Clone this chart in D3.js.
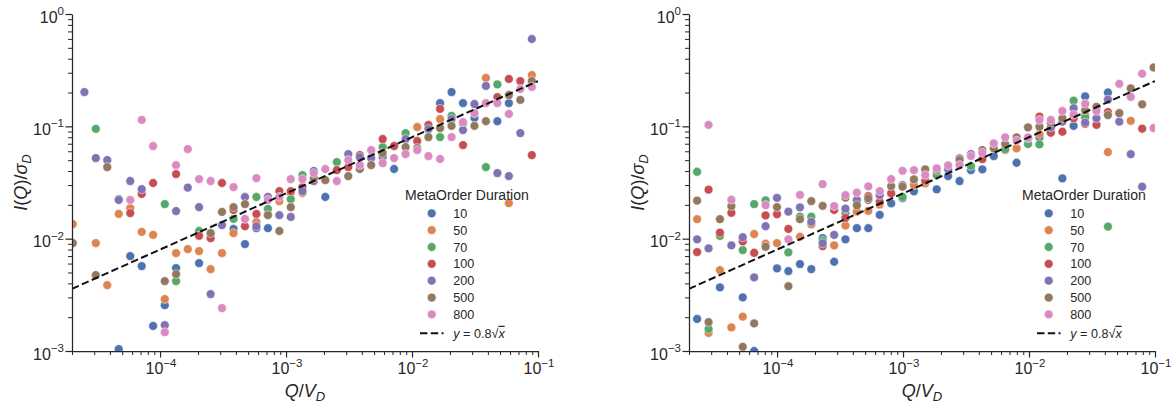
<!DOCTYPE html>
<html><head><meta charset="utf-8">
<script src="https://cdn.jsdelivr.net/npm/d3@7"></script>
<style>
body{margin:0;background:#fff}
svg{display:block}
text{font-family:"Liberation Sans",Arial,sans-serif;fill:#262626}
</style>
</head><body>
<svg id="c" width="1172" height="405"></svg>
<script>
// ---------------- DATA ----------------
const durations = ["10","50","70","100","200","500","800"];
const colors = ["#4C72B0","#DD8452","#55A868","#C44E52","#8172B3","#937860","#DA8BC3"];
const xTickExps = [-4,-3,-2,-1];
const yTickExps = [0,-1,-2,-3];
const xDomain = [2e-5, 1e-1];
const yDomain = [1e-3, 1];
const fitCoef = 0.8;

// Q/V_D bin centres (left panel)
const xBinsLeft = [2.03e-5,2.51e-5,3.09e-5,3.81e-5,4.70e-5,5.80e-5,7.15e-5,8.81e-5,1.09e-4,1.34e-4,
 1.66e-4,2.04e-4,2.52e-4,3.10e-4,3.83e-4,4.72e-4,5.82e-4,7.18e-4,8.85e-4,1.09e-3,
 1.35e-3,1.66e-3,2.05e-3,2.53e-3,3.12e-3,3.85e-3,4.74e-3,5.85e-3,7.21e-3,8.89e-3,
 1.10e-2,1.35e-2,1.67e-2,2.06e-2,2.54e-2,3.13e-2,3.86e-2,4.76e-2,5.87e-2,7.24e-2,
 8.93e-2];
// Q/V_D bin centres (right panel)
const xBinsRight = [2.32e-5,2.86e-5,3.52e-5,4.34e-5,5.34e-5,6.58e-5,8.11e-5,9.99e-5,1.23e-4,1.52e-4,
 1.87e-4,2.30e-4,2.84e-4,3.49e-4,4.30e-4,5.30e-4,6.53e-4,8.05e-4,9.91e-4,1.22e-3,
 1.50e-3,1.85e-3,2.28e-3,2.81e-3,3.46e-3,4.26e-3,5.25e-3,6.47e-3,7.97e-3,9.82e-3,
 1.21e-2,1.49e-2,1.84e-2,2.26e-2,2.79e-2,3.43e-2,4.23e-2,5.21e-2,6.42e-2,7.91e-2,
 9.75e-2];

// Left panel I(Q)/sigma_D per duration
const d10L = [null,null,null,null,0.00104,0.0070,0.0057,0.00167,0.00256,0.00547,
 null,0.00606,0.0112,null,0.0122,0.00895,0.0124,0.0124,null,null,
 null,0.0400,0.0235,null,null,null,null,null,0.0417,null,
 null,null,0.161,0.202,0.161,0.119,null,0.111,0.161,null,
 null];
const d50L = [0.0135,null,0.00914,0.00386,0.0166,0.0187,0.0115,0.0108,0.0029,0.00744,
 0.00808,0.00775,0.00536,0.00744,0.0112,null,0.0141,0.0166,0.0216,0.0255,
 0.0255,null,null,null,null,null,null,null,null,null,
 0.0986,null,0.116,null,null,null,0.27,null,0.0207,null,
 0.286];
const d70L = [null,null,0.095,null,0.0225,null,null,null,0.0203,0.00419,
 null,0.0117,null,null,0.0150,null,0.0235,0.0184,null,0.0225,
 0.0368,null,null,0.0481,null,null,null,0.0654,null,0.0871,
 null,null,0.0803,0.124,0.105,null,0.0434,0.236,null,null,
 null];
const d100L = [null,null,null,null,null,0.0169,0.0250,0.0313,null,0.0376,
 null,0.0106,0.0101,0.0313,0.0180,0.0129,0.0166,null,0.0265,0.0265,
 0.0288,null,null,0.0408,0.0434,0.0555,null,0.0771,0.0668,null,
 0.0740,0.103,0.143,null,0.0681,null,null,0.182,0.264,0.253,
 0.0555];
const d200L = [null,0.202,0.0522,0.0501,0.0221,0.0326,0.0276,null,0.00170,0.0176,
 0.0285,0.0191,0.00321,0.0132,null,0.0235,0.0129,0.0235,0.0162,0.0156,
 0.0265,0.0326,null,null,0.0566,0.0533,0.0522,0.0533,null,0.0771,
 null,0.0946,null,0.116,0.0927,0.158,0.229,0.0384,0.0361,0.0871,
 0.599];
const d500L = [0.00914,null,0.00474,0.0434,null,null,null,null,0.00419,0.00484,
 null,null,0.0112,0.0173,0.0191,0.0203,null,0.0162,0.0117,0.0191,
 null,0.0346,0.0332,null,0.0361,0.0417,0.0452,0.0578,null,0.0654,
 0.0641,0.0803,0.0966,0.101,null,0.101,0.111,null,0.190,0.172,
 0.253];
const d800L = [null,null,null,null,null,0.0221,0.114,0.0668,0.00147,0.0452,
 0.0628,0.0339,0.0326,0.00241,0.0288,0.0150,0.0346,0.0221,0.0235,0.0339,
 0.0339,0.0384,0.0417,0.0326,0.0501,0.0452,0.0615,0.0471,0.0522,0.0566,
 0.0615,0.0544,0.0512,0.0803,0.109,0.131,0.161,0.161,0.129,0.215,
 0.224];

// Right panel I(Q)/sigma_D per duration
const d10R = [0.00193,null,0.00368,null,0.00300,0.00100,null,0.00544,0.00515,0.00594,
 0.00536,0.0101,0.00623,0.00986,0.0124,0.0124,0.0163,0.0206,0.0229,0.0264,
 null,0.0275,0.0361,0.0326,0.0408,0.0414,0.0544,null,0.0474,0.0782,
 0.0798,null,0.0344,0.101,0.185,null,0.200,null,null,null,
 null];
const d50R = [0.0149,0.00145,0.00525,0.00162,0.00202,0.0110,0.00901,0.00914,null,0.0104,
 0.0134,null,0.00872,0.0131,0.0174,0.0177,0.0201,null,null,0.0300,
 0.0311,null,null,null,null,null,null,0.0615,0.0637,null,
 0.0854,0.0895,null,null,0.126,null,0.0590,0.132,0.112,null,
 null];
const d70R = [0.0394,0.00157,0.0106,null,0.00791,0.0203,0.0219,null,0.00755,0.0157,
 0.0157,0.00958,null,0.0168,null,null,null,null,0.0235,null,
 null,0.0368,null,null,0.0443,null,null,0.0624,null,0.0696,
 0.0691,null,null,0.169,0.120,null,0.0128,null,null,null,
 null];
const d100R = [0.00760,0.0273,0.0113,0.0170,0.00946,0.00749,0.0161,0.0165,0.0122,null,
 null,0.00859,0.0180,0.0153,null,0.0239,0.0213,0.0253,null,null,
 0.0328,null,null,null,null,0.0510,null,null,null,null,
 0.122,0.0877,0.0895,0.118,0.105,0.103,0.134,null,null,0.0952,
 null];
const d200R = [0.00986,0.00820,null,0.00872,0.0103,0.00452,0.0129,0.0231,0.0174,0.0190,
 0.0141,0.00908,0.0108,0.0185,0.0221,0.0221,0.0244,null,0.0300,null,
 null,null,0.0414,0.0519,0.0566,null,null,null,null,0.0782,
 null,0.098,0.110,0.145,0.108,0.118,0.173,0.110,0.0566,0.0290,
 null];
const d500R = [0.0218,0.00181,0.0149,0.0195,0.00109,0.00176,0.00847,0.0191,0.00378,0.0149,
 0.0216,0.0196,null,0.0232,0.0198,0.0229,null,0.0294,0.0290,0.0337,
 0.0414,0.0408,null,0.0501,null,0.0615,0.0637,0.0696,0.0798,0.098,
 0.0992,0.108,0.118,null,0.139,0.149,0.126,0.131,0.218,0.157,
 0.334];
const d800R = [null,0.103,null,0.0222,null,null,0.0199,null,0.00986,0.0245,
 null,0.0306,0.0195,0.0244,0.0257,0.0292,0.0265,0.0339,0.0402,0.0408,
 0.0368,0.0423,0.0449,0.0452,0.0544,0.0582,0.0706,0.0798,0.0744,0.0798,
 0.114,0.114,0.137,0.127,0.159,0.137,null,0.239,0.183,0.294,
 0.0966];

const seriesLeft = [d10L,d50L,d70L,d100L,d200L,d500L,d800L];
const seriesRight = [d10R,d50R,d70R,d100R,d200R,d500R,d800R];

// ---------------- DRAW ----------------
const svg = d3.select("#c");
const ink = "#262626";
const TOP = 14, BOTTOM = 351;
const R = 4.4;

function minorTicks(lo, hi) {
  const out = [];
  for (let e = Math.floor(Math.log10(lo)); e <= Math.ceil(Math.log10(hi)); e++) {
    for (let m = 2; m <= 9; m++) {
      const v = m * Math.pow(10, e);
      if (v >= lo * 0.999 && v <= hi * 1.001) out.push(v);
    }
  }
  return out;
}

function panel(left, right, xBins, series, id) {
  const x = d3.scaleLog().domain(xDomain).range([left, right]);
  const y = d3.scaleLog().domain(yDomain).range([BOTTOM, TOP]);
  const g = svg.append("g");

  g.append("clipPath").attr("id", "clip" + id)
    .append("rect").attr("x", left).attr("y", TOP).attr("width", right - left).attr("height", BOTTOM - TOP);

  const plot = g.append("g").attr("clip-path", `url(#clip${id})`);

  series.forEach((vals, si) => {
    const pts = vals.map((v, i) => ({x: xBins[i], y: v})).filter(d => d.y != null);
    plot.append("g").selectAll("circle").data(pts).join("circle")
      .attr("cx", d => x(d.x)).attr("cy", d => y(d.y)).attr("r", R)
      .attr("fill", colors[si]).attr("stroke", "#fff").attr("stroke-width", 0.5);
  });

  const fitPts = xDomain.map(v => [v, fitCoef * Math.sqrt(v)]);
  plot.append("path").datum(fitPts)
    .attr("d", d3.line().x(d => x(d[0])).y(d => y(d[1])))
    .attr("fill", "none").attr("stroke", "#111").attr("stroke-width", 2)
    .attr("stroke-dasharray", "7.4,3.4");

  const xMaj = xTickExps.map(e => Math.pow(10, e));
  const yMaj = yTickExps.map(e => Math.pow(10, e));
  const styleAxis = sel => {
    sel.selectAll("path.domain").attr("stroke", ink).attr("stroke-width", 1.25);
    sel.selectAll(".tick line").attr("stroke", ink).attr("stroke-width", 1.2);
    sel.selectAll(".tick text").remove();
  };
  const xa = g.append("g").attr("transform", `translate(0,${BOTTOM})`)
    .call(d3.axisBottom(x).tickValues(xMaj).tickSize(6.5).tickSizeOuter(0).tickFormat(""));
  styleAxis(xa);
  const xm = g.append("g").attr("transform", `translate(0,${BOTTOM})`)
    .call(d3.axisBottom(x).tickValues(minorTicks(xDomain[0], xDomain[1])).tickSize(4).tickSizeOuter(0).tickFormat(""));
  styleAxis(xm); xm.select("path.domain").remove();
  xm.selectAll(".tick line").attr("stroke-width", 1);

  const ya = g.append("g").attr("transform", `translate(${left},0)`)
    .call(d3.axisLeft(y).tickValues(yMaj).tickSize(6.5).tickSizeOuter(0).tickFormat(""));
  styleAxis(ya);
  const ym = g.append("g").attr("transform", `translate(${left},0)`)
    .call(d3.axisLeft(y).tickValues(minorTicks(yDomain[0], yDomain[1])).tickSize(4).tickSizeOuter(0).tickFormat(""));
  styleAxis(ym); ym.select("path.domain").remove();
  ym.selectAll(".tick line").attr("stroke-width", 1);

  xTickExps.forEach(e => {
    const t = g.append("text").attr("x", x(Math.pow(10, e)) + 1).attr("y", 374)
      .attr("text-anchor", "middle").style("font-size", "16px");
    t.append("tspan").text("10");
    t.append("tspan").attr("dy", -7.5).style("font-size", "11.5px").text(e < 0 ? "\u2212" + (-e) : String(e));
  });
  yTickExps.forEach(e => {
    const t = g.append("text").attr("x", left - 8).attr("y", y(Math.pow(10, e)) + 8.5)
      .attr("text-anchor", "end").style("font-size", "16px");
    t.append("tspan").text("10");
    t.append("tspan").attr("dy", -7.5).style("font-size", "11.5px").text(e < 0 ? "\u2212" + (-e) : String(e));
  });

  const xl = g.append("text").attr("x", (left + right) / 2).attr("y", 397)
    .attr("text-anchor", "middle").style("font-size", "18px");
  xl.append("tspan").style("font-style", "italic").text("Q");
  xl.append("tspan").text("/");
  xl.append("tspan").style("font-style", "italic").text("V");
  xl.append("tspan").attr("dy", 4).style("font-style", "italic").style("font-size", "13px").text("D");

  const yl = g.append("text")
    .attr("transform", `translate(${left - 45},${(TOP + BOTTOM) / 2}) rotate(-90)`)
    .attr("text-anchor", "middle").style("font-size", "18px");
  yl.append("tspan").style("font-style", "italic").text("I");
  yl.append("tspan").text("(");
  yl.append("tspan").style("font-style", "italic").text("Q");
  yl.append("tspan").text(")/");
  yl.append("tspan").style("font-style", "italic").text("\u03c3");
  yl.append("tspan").attr("dy", 4).style("font-style", "italic").style("font-size", "13px").text("D");

  const lg = g.append("g");
  lg.append("text").attr("x", right - 133).attr("y", 200).style("font-size", "14px").text("MetaOrder Duration");
  durations.forEach((d, i) => {
    const cy = 213.3 + i * 16.85;
    lg.append("circle").attr("cx", right - 106.3).attr("cy", cy).attr("r", R)
      .attr("fill", colors[i]).attr("stroke", "#fff").attr("stroke-width", 0.5);
    lg.append("text").attr("x", right - 84.7).attr("y", cy + 4.5).style("font-size", "12.6px").text(d);
  });
  const ly = 213.3 + 7 * 16.85 + 2;
  lg.append("line").attr("x1", right - 118).attr("x2", right - 94.5).attr("y1", ly).attr("y2", ly)
    .attr("stroke", "#111").attr("stroke-width", 2).attr("stroke-dasharray", "7.4,3.4");
  const ft = lg.append("text").attr("x", right - 84.7).attr("y", ly + 4.5).style("font-size", "12.6px");
  ft.append("tspan").style("font-style", "italic").text("y");
  ft.append("tspan").text(" = 0.8\u221a");
  ft.append("tspan").style("font-style", "italic").style("text-decoration", "overline").text("x");
}

panel(72, 538, xBinsLeft, seriesLeft, "L");
panel(689, 1155, xBinsRight, seriesRight, "R");
</script>
</body></html>
